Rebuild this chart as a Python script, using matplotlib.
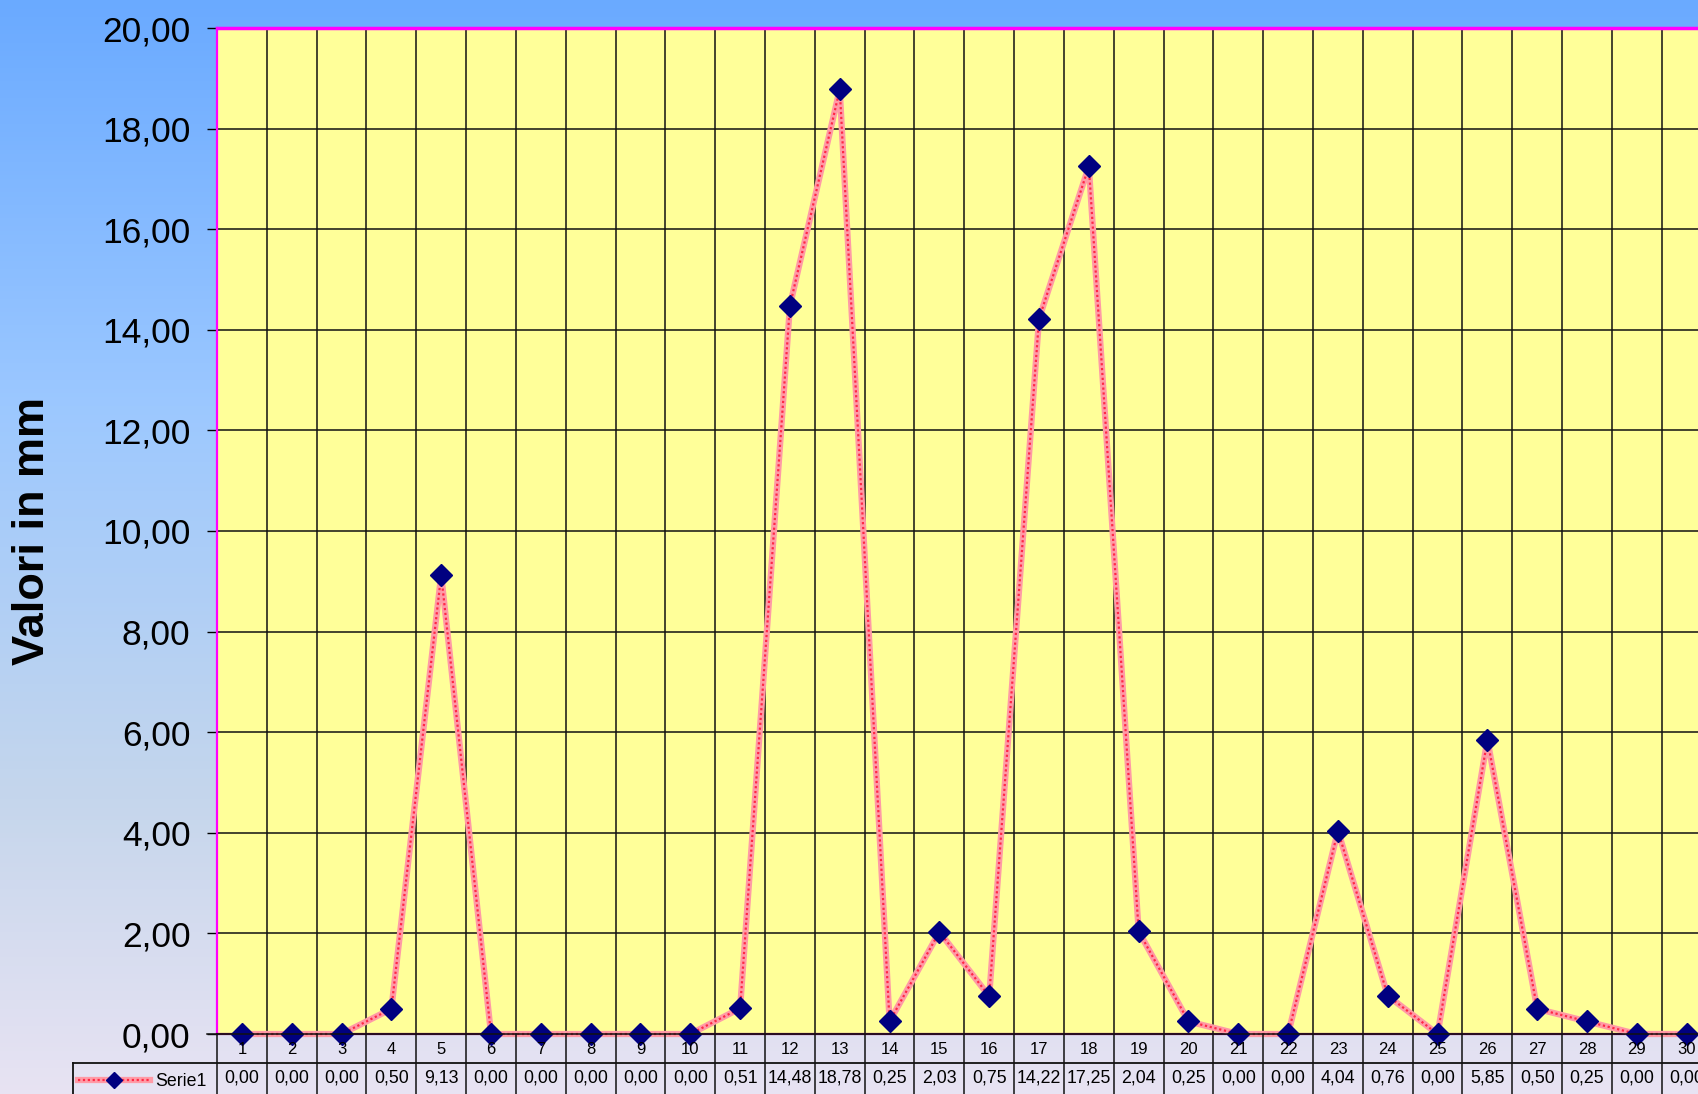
import numpy as np
import matplotlib
matplotlib.use("Agg")
import matplotlib.pyplot as plt
from matplotlib.colors import LinearSegmentedColormap
from matplotlib.lines import Line2D
from matplotlib import transforms
from matplotlib.ticker import FuncFormatter, MultipleLocator

plt.rcParams['font.family'] = ['Liberation Sans', 'DejaVu Sans']

# dati: pioggia giornaliera (mm)
giorni = list(range(1, 31))
valori = [0.00, 0.00, 0.00, 0.50, 9.13, 0.00, 0.00, 0.00, 0.00, 0.00,
          0.51, 14.48, 18.78, 0.25, 2.03, 0.75, 14.22, 17.25, 2.04, 0.25,
          0.00, 0.00, 4.04, 0.76, 0.00, 5.85, 0.50, 0.25, 0.00, 0.00]
serie = "Serie1"
titolo_y = "Valori in mm"

W, H = 1699, 1094
fig = plt.figure(figsize=(W / 100, H / 100), dpi=100)

# sfondo sfumato
bg = fig.add_axes([0, 0, 1, 1], zorder=-10)
cmap = LinearSegmentedColormap.from_list(
    "bg", [(0, "#6AAAFF"), (0.37, "#9CC8FF"), (0.73, "#C5D6EC"), (1, "#E8E3F3")])
grad = np.linspace(0, 1, 256).reshape(-1, 1)
bg.imshow(grad, cmap=cmap, aspect="auto", extent=[0, 1, 0, 1])
bg.set_axis_off()

# area del grafico (esce a destra come nell'originale)
left, right, top, bottom = 217, 1711.6, 28, 1034
ax = fig.add_axes([left / W, (H - bottom) / H, (right - left) / W, (bottom - top) / H])
ax.set_facecolor("#FFFF99")
ax.set_xlim(0.5, 30.5)
ax.set_ylim(0, 20)

ax.yaxis.set_major_locator(MultipleLocator(2))
ax.yaxis.set_major_formatter(FuncFormatter(lambda v, p: f"{v:.2f}".replace(".", ",")))
ax.tick_params(axis="y", direction="out", length=7, width=1, labelsize=25.5, pad=12)
ax.set_xticks([])
for k in range(31):
    ax.axvline(k + 0.5, color="#111111", lw=1.1, zorder=1)
for v in range(2, 20, 2):
    ax.axhline(v, color="#111111", lw=1.1, zorder=1)

ax.spines["right"].set_visible(False)
ax.spines["top"].set_color("#FF00FF")
ax.spines["top"].set_linewidth(2.5)
ax.spines["left"].set_color("#FF00FF")
ax.spines["left"].set_linewidth(1.6)
ax.spines["bottom"].set_color("#800060")
ax.spines["bottom"].set_linewidth(1.6)

# linea con marcatori
ax.plot(giorni, valori, color="#FF9AA6", lw=4.5, zorder=3, clip_on=False)
ax.plot(giorni, valori, color="#FF2845", lw=1.6, ls=(0, (1, 1.2)), zorder=3, clip_on=False)
ax.plot(giorni, valori, ls="none", marker="D", ms=11.5, color="#000080", zorder=4, clip_on=False)

fig.text(33 / W, 1 - 531 / H, titolo_y, rotation=90, fontsize=32.5, fontweight="bold",
         ha="center", va="center")

# tabella dati sotto l'asse
tr = transforms.blended_transform_factory(ax.transData, fig.transFigure)
y_ax = (H - bottom) / H
y_mid = (H - 1063) / H
for k in range(31):
    fig.add_artist(Line2D([k + 0.5, k + 0.5], [y_ax, 0], transform=tr, color="#111111", lw=1.1))
fig.add_artist(Line2D([left / W - 0.006, 1], [y_ax, y_ax], transform=fig.transFigure, color="#111111", lw=1.1))
fig.add_artist(Line2D([73 / W, 1], [y_mid, y_mid], transform=fig.transFigure, color="#111111", lw=1.3))
fig.add_artist(Line2D([73 / W, 73 / W], [y_mid, 0], transform=fig.transFigure, color="#111111", lw=1.3))
for g, v in zip(giorni, valori):
    fig.text(g, (H - 1050) / H, str(g), transform=tr, ha="center", va="center", fontsize=12)
    fig.text(g, (H - 1078) / H, f"{v:.2f}".replace(".", ","), transform=tr,
             ha="center", va="center", fontsize=12.8)

# legenda nella tabella
ly = (H - 1080) / H
fig.add_artist(Line2D([78 / W, 150 / W], [ly, ly], transform=fig.transFigure, color="#FF9AA6", lw=4.5))
fig.add_artist(Line2D([78 / W, 150 / W], [ly, ly], transform=fig.transFigure, color="#FF2845", lw=1.6, ls=(0, (1, 1.2))))
fig.add_artist(Line2D([114 / W], [ly], transform=fig.transFigure, ls="none", marker="D", ms=8.5, color="#000080"))
fig.text(155 / W, (H - 1082) / H, serie, ha="left", va="center", fontsize=12.8)

fig.savefig("out.png", dpi=100)
